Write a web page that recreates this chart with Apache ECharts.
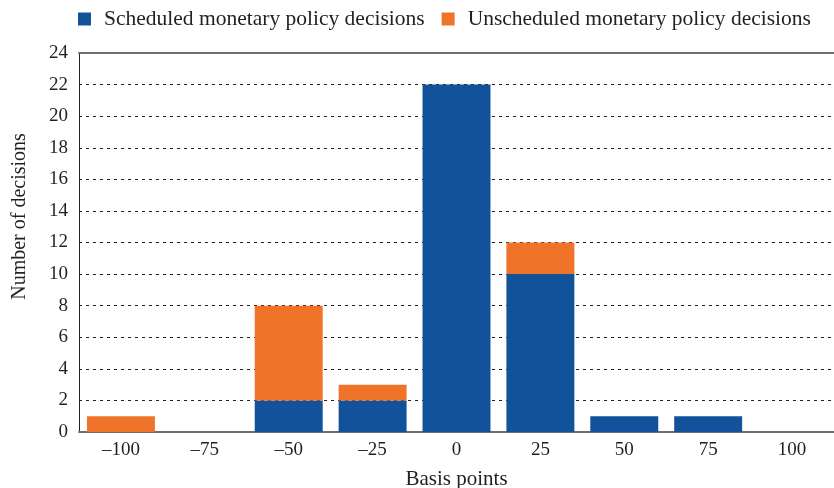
<!DOCTYPE html>
<html style="height: 100%">
<head>
    <meta charset="utf-8">
    <script src="https://cdn.jsdelivr.net/npm/echarts@6/dist/echarts.min.js"></script>
</head>
<body style="height: 100%; margin: 0; background: #fff;">
    <div id="container" style="width: 834px; height: 488px;"></div>
    <script type="text/javascript">
        // 数据
        var categories = ['–100', '–75', '–50', '–25', '0', '25', '50', '75', '100'];
        var scheduled = [0, 0, 2, 2, 22, 10, 1, 1, 0];
        var unscheduled = [1, 0, 6, 1, 0, 2, 0, 0, 0];
        var seriesNames = ['Scheduled monetary policy decisions', 'Unscheduled monetary policy decisions'];

        var font = '"Liberation Serif", "DejaVu Serif", serif';
        var textColor = '#231f20';

        var myChart = echarts.init(document.getElementById('container'));

        var option = {
            animation: false,
            textStyle: { fontFamily: font },
            legend: {
                top: 8,
                left: 78,
                right: 0,
                padding: 0,
                itemWidth: 13,
                itemHeight: 13,
                itemGap: 17,
                icon: 'rect',
                textStyle: { fontFamily: font, fontSize: 21.5, color: textColor, padding: [0, 0, 0, 8] },
                data: seriesNames
            },
            grid: { left: 79, right: 0, top: 53, bottom: 56, outerBoundsMode: 'none', containLabel: false },
            xAxis: [
                {
                    type: 'category',
                    data: categories,
                    name: 'Basis points',
                    nameLocation: 'middle',
                    nameGap: 37,
                    nameTextStyle: { fontFamily: font, fontSize: 21, color: textColor },
                    axisTick: { show: false },
                    axisLine: { lineStyle: { color: '#6d6e71', width: 2 } },
                    axisLabel: { fontFamily: font, fontSize: 19, color: textColor, margin: 9 }
                },
                {
                    // 顶部的实线
                    type: 'category',
                    position: 'top',
                    data: categories,
                    axisTick: { show: false },
                    axisLabel: { show: false },
                    axisLine: { lineStyle: { color: '#6d6e71', width: 2 } }
                }
            ],
            yAxis: {
                type: 'value',
                min: 0,
                max: 24,
                interval: 2,
                name: 'Number of decisions',
                nameLocation: 'middle',
                nameGap: 49,
                nameTextStyle: { fontFamily: font, fontSize: 20, color: textColor, padding: [0, 0, 0, 52] },
                axisLine: { show: true, lineStyle: { color: '#231f20', width: 1 } },
                axisTick: { show: false },
                axisLabel: { fontFamily: font, fontSize: 19, color: textColor, margin: 11 },
                splitLine: { lineStyle: { color: '#231f20', type: [3, 4], width: 1 } }
            },
            series: [
                {
                    name: seriesNames[0],
                    type: 'bar',
                    stack: 'total',
                    barCategoryGap: '19%',
                    itemStyle: { color: '#12529b' },
                    data: scheduled
                },
                {
                    name: seriesNames[1],
                    type: 'bar',
                    stack: 'total',
                    barCategoryGap: '19%',
                    itemStyle: { color: '#f0732a' },
                    data: unscheduled
                }
            ]
        };

        myChart.setOption(option);
    </script>
</body>
</html>
